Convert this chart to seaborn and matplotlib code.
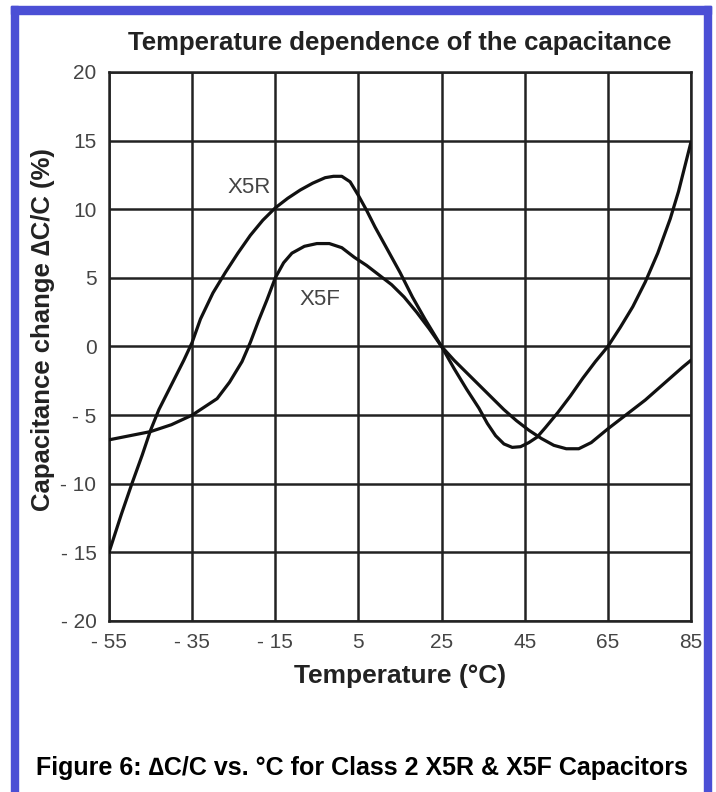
import matplotlib
matplotlib.use("Agg")
import matplotlib.pyplot as plt
import matplotlib.patches as patches
import pandas as pd
import seaborn as sns

# readings taken off the original figure
x5r_temp = [-55, -52, -49.5, -47, -45, -43, -40, -37, -35, -33, -30, -27, -24, -21, -18, -15,
            -12, -9, -6, -3, -1, 1, 3, 5, 7, 9, 11, 13, 15, 18, 21, 25, 28, 31, 34, 36, 38, 40,
            42, 44, 46, 48, 50, 53, 56, 59, 62, 65, 68, 71, 74, 77, 80, 82, 85]
x5r_change = [-15.0, -12.2, -10.0, -7.9, -6.1, -4.6, -2.8, -1.0, 0.3, 2.0, 3.9, 5.4, 6.8, 8.1, 9.2, 10.1,
              10.8, 11.4, 11.9, 12.3, 12.4, 12.4, 12.0, 11.0, 9.9, 8.7, 7.6, 6.5, 5.4, 3.6, 2.0, 0.0,
              -1.6, -3.1, -4.5, -5.6, -6.5, -7.1, -7.35, -7.3, -7.0, -6.6, -5.9, -4.8, -3.6, -2.3,
              -1.1, 0.0, 1.4, 2.9, 4.7, 6.8, 9.3, 11.3, 14.9]

x5f_temp = [-55, -50, -45, -40, -35, -32, -29, -26, -23, -21, -19, -17, -15, -13, -11, -8, -5, -2,
            1, 4, 7, 10, 13, 16, 19, 22, 25, 28, 31, 34, 37, 40, 43, 46, 49, 52, 55, 58, 61, 63,
            65, 68, 71, 74, 77, 80, 83, 85]
x5f_change = [-6.8, -6.5, -6.2, -5.7, -5.0, -4.4, -3.8, -2.6, -1.1, 0.3, 1.9, 3.4, 5.0, 6.1, 6.8, 7.3,
              7.5, 7.5, 7.2, 6.5, 5.9, 5.2, 4.5, 3.6, 2.5, 1.3, 0.0, -1.0, -1.9, -2.8, -3.7, -4.6,
              -5.4, -6.1, -6.7, -7.2, -7.45, -7.45, -7.0, -6.5, -6.0, -5.3, -4.6, -3.9, -3.1, -2.3,
              -1.5, -1.0]

x_ticks = [-55, -35, -15, 5, 25, 45, 65, 85]
y_ticks = [-20, -15, -10, -5, 0, 5, 10, 15, 20]

sns.set_style("white")
plt.rcParams["font.family"] = ["Liberation Sans", "DejaVu Sans"]

df = pd.concat([
    pd.DataFrame({"temp": x5r_temp, "change": x5r_change, "type": "X5R"}),
    pd.DataFrame({"temp": x5f_temp, "change": x5f_change, "type": "X5F"}),
])

fig = plt.figure(figsize=(7.16, 7.92), dpi=100)
ax = fig.add_axes([109 / 716, 171 / 792, 582 / 716, 549 / 792])

for name in ["X5R", "X5F"]:
    sub = df[df["type"] == name]
    sns.lineplot(data=sub, x="temp", y="change", sort=False, color="#111111",
                 linewidth=2.3, ax=ax, zorder=3)

ax.set_xlim(-55, 85)
ax.set_ylim(-20, 20)
ax.set_xticks(x_ticks)
ax.set_yticks(y_ticks)
ax.set_xticklabels([f"- {abs(t)}" if t < 0 else str(t) for t in x_ticks])
ax.set_yticklabels([f"- {abs(t)}" if t < 0 else str(t) for t in y_ticks])
ax.tick_params(length=0, pad=9, labelsize=15, labelcolor="#444444")
ax.grid(True, color="#222222", linewidth=1.8)
for sp in ax.spines.values():
    sp.set_color("#222222")
    sp.set_linewidth(1.8)

ax.set_xlabel("Temperature (°C)", fontsize=19, fontweight="bold", color="#222222", labelpad=8)
ax.set_ylabel("Capacitance change \u2206C/C (%)", fontsize=18.5, fontweight="bold",
              color="#222222")
ax.yaxis.set_label_coords(-0.092, 0.53)
ax.set_title("Temperature dependence of the capacitance", fontsize=18.5, fontweight="bold",
             color="#222222", pad=16)

ax.text(-21.3, 11.6, "X5R", fontsize=16, color="#444444", ha="center", va="center")
ax.text(-4.2, 3.4, "X5F", fontsize=16, color="#444444", ha="center", va="center")

fig.text(362 / 716, 1 - 768 / 792, "Figure 6: \u2206C/C vs. °C for Class 2 X5R & X5F Capacitors",
         fontsize=18, fontweight="bold", color="black", ha="center", va="center")

# blue frame around the figure
blue = "#4b4fd5"
fig.patches.append(patches.Rectangle((11 / 716, 1 - 14 / 792), 700 / 716, 8 / 792,
                                     transform=fig.transFigure, color=blue, zorder=0))
fig.patches.append(patches.Rectangle((11 / 716, 0), 7 / 716, 1 - 6 / 792,
                                     transform=fig.transFigure, color=blue, zorder=0))
fig.patches.append(patches.Rectangle((704 / 716, 0), 7 / 716, 1 - 6 / 792,
                                     transform=fig.transFigure, color=blue, zorder=0))

fig.savefig("out.png", dpi=100)
